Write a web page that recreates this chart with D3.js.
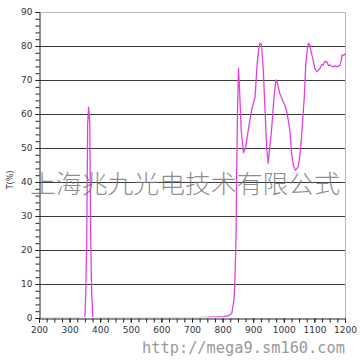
<!DOCTYPE html>
<html><head><meta charset="utf-8">
<script src="https://cdn.jsdelivr.net/npm/d3@7"></script>
<style>body{margin:0;background:#fff}svg{display:block}</style>
</head><body>
<script>
const wavelengths = [200,350,353,356,359,362,364,366,369,372,376,500,700,802,818,830,837,840,844,846,849,852,856,861,868,875,879,887,895,906,913,918,922,927,933,939,944,949,954,960,968,974,978,982,987,992,998,1004,1009,1015,1020,1026,1031,1037,1042,1047,1053,1058,1063,1067,1072,1077,1080,1085,1090,1096,1101,1107,1112,1118,1124,1129,1134,1140,1146,1151,1157,1162,1168,1173,1179,1184,1188,1191,1196,1200];
const transmittance = [0,0,8,23,57,62,60,57,23,8,0,0,0,0.4,0.6,1.4,5.3,10,24,43.5,62,73.4,66,55,48.6,50,52.4,57,61.2,65,74.9,79,80.8,80.5,72.9,60.3,50,45.5,50,55.3,65,70,69.5,68,66,65,63.6,62.5,61,58,55,48,45,43.5,43.8,44.5,48,53.3,60,65,74.9,79,80.8,80.3,78,75.9,73.5,72.5,72.8,73.4,74.5,74.4,75.5,75.4,74.3,74.4,74,73.9,74.2,73.9,74.1,74.4,76,77.4,77.2,77.8];
const xTicks = [200,300,400,500,600,700,800,900,1000,1100,1200];
const yTicks = [0,10,20,30,40,50,60,70,80,90];
const yLabel = "T(%)";
const watermark = "上海兆九光电技术有限公式";
const url = "http://mega9.sm160.com";

const W = 360, H = 360;
const svg = d3.select("body").append("svg").attr("width", W).attr("height", H);
const x = d3.scaleLinear().domain([200,1200]).range([39,345]);
const y = d3.scaleLinear().domain([0,90]).range([318,12]);

svg.append("clipPath").attr("id","plotclip").append("rect")
  .attr("x", x(200)+1).attr("y", 0).attr("width", x(1200)-x(200)).attr("height", y(0)-0.8);

// grid lines
svg.append("g").selectAll("line").data(yTicks.filter(v => v>0 && v<90)).join("line")
  .attr("x1", x(200)).attr("x2", x(1200))
  .attr("y1", d => y(d)+0.5).attr("y2", d => y(d)+0.5)
  .attr("stroke", "#3a3a3a").attr("stroke-width", 1.2);
// top & right border
svg.append("path")
  .attr("d", `M${x(200)},${y(90)+0.5}H${x(1200)+0.5}V${y(0)}`)
  .attr("fill","none").attr("stroke","#b8b8b8").attr("stroke-width",1);

// curve
const line = d3.line().x((d,i) => x(wavelengths[i])).y(d => y(d));
svg.append("path").datum(transmittance)
  .attr("clip-path","url(#plotclip)")
  .attr("d", line).attr("fill","none")
  .attr("stroke","#e040e0").attr("stroke-width",1.3).attr("stroke-linejoin","round");

// axes
const font = "Verdana, 'DejaVu Sans', sans-serif";
const fmt = d3.format("d");
const yAxis = svg.append("g").attr("transform", `translate(${x(200)+0.5},0)`)
  .call(d3.axisLeft(y).tickValues(d3.range(0,91,2)).tickSize(4).tickFormat(""));
yAxis.select(".domain").attr("stroke","#222");
yAxis.selectAll(".tick line").attr("stroke","#222");
const yLab = svg.append("g").attr("transform", `translate(${x(200)+0.5},0)`)
  .call(d3.axisLeft(y).tickValues(yTicks).tickSize(4).tickPadding(3).tickFormat(fmt));
yLab.select(".domain").remove();
yLab.selectAll(".tick line").attr("stroke","#222");
yLab.selectAll("text").attr("font-family",font).attr("font-size",9).attr("fill","#333");

const xAxis = svg.append("g").attr("transform", `translate(0,${y(0)+0.5})`)
  .call(d3.axisBottom(x).tickValues(d3.range(200,1201,25)).tickSize(4).tickFormat(""));
xAxis.select(".domain").attr("stroke","#222");
xAxis.selectAll(".tick line").attr("stroke","#222");
const xLab = svg.append("g").attr("transform", `translate(0,${y(0)+0.5})`)
  .call(d3.axisBottom(x).tickValues(xTicks).tickSize(4).tickPadding(4).tickFormat(fmt));
xLab.select(".domain").remove();
xLab.selectAll(".tick line").attr("stroke","#222");
xLab.selectAll("text").attr("font-family",font).attr("font-size",9).attr("fill","#333");

// y label
svg.append("text").attr("transform","translate(13,180) rotate(-90)")
  .attr("text-anchor","middle").attr("font-family",font).attr("font-size",8).attr("fill","#333")
  .text(yLabel);

// watermarks
svg.append("text").attr("x", 30).attr("y", 193)
  .attr("font-family","'Noto Sans CJK SC'").attr("font-weight",300).attr("font-size",25)
  .attr("textLength",310).attr("lengthAdjust","spacingAndGlyphs")
  .attr("fill","#777").attr("fill-opacity",0.85).text(watermark);
svg.append("text").attr("x", 142).attr("y", 353)
  .attr("font-family","'DejaVu Sans Mono', monospace").attr("font-size",15)
  .attr("textLength",203).attr("lengthAdjust","spacingAndGlyphs")
  .attr("fill","#999").text(url);
</script>
</body></html>
